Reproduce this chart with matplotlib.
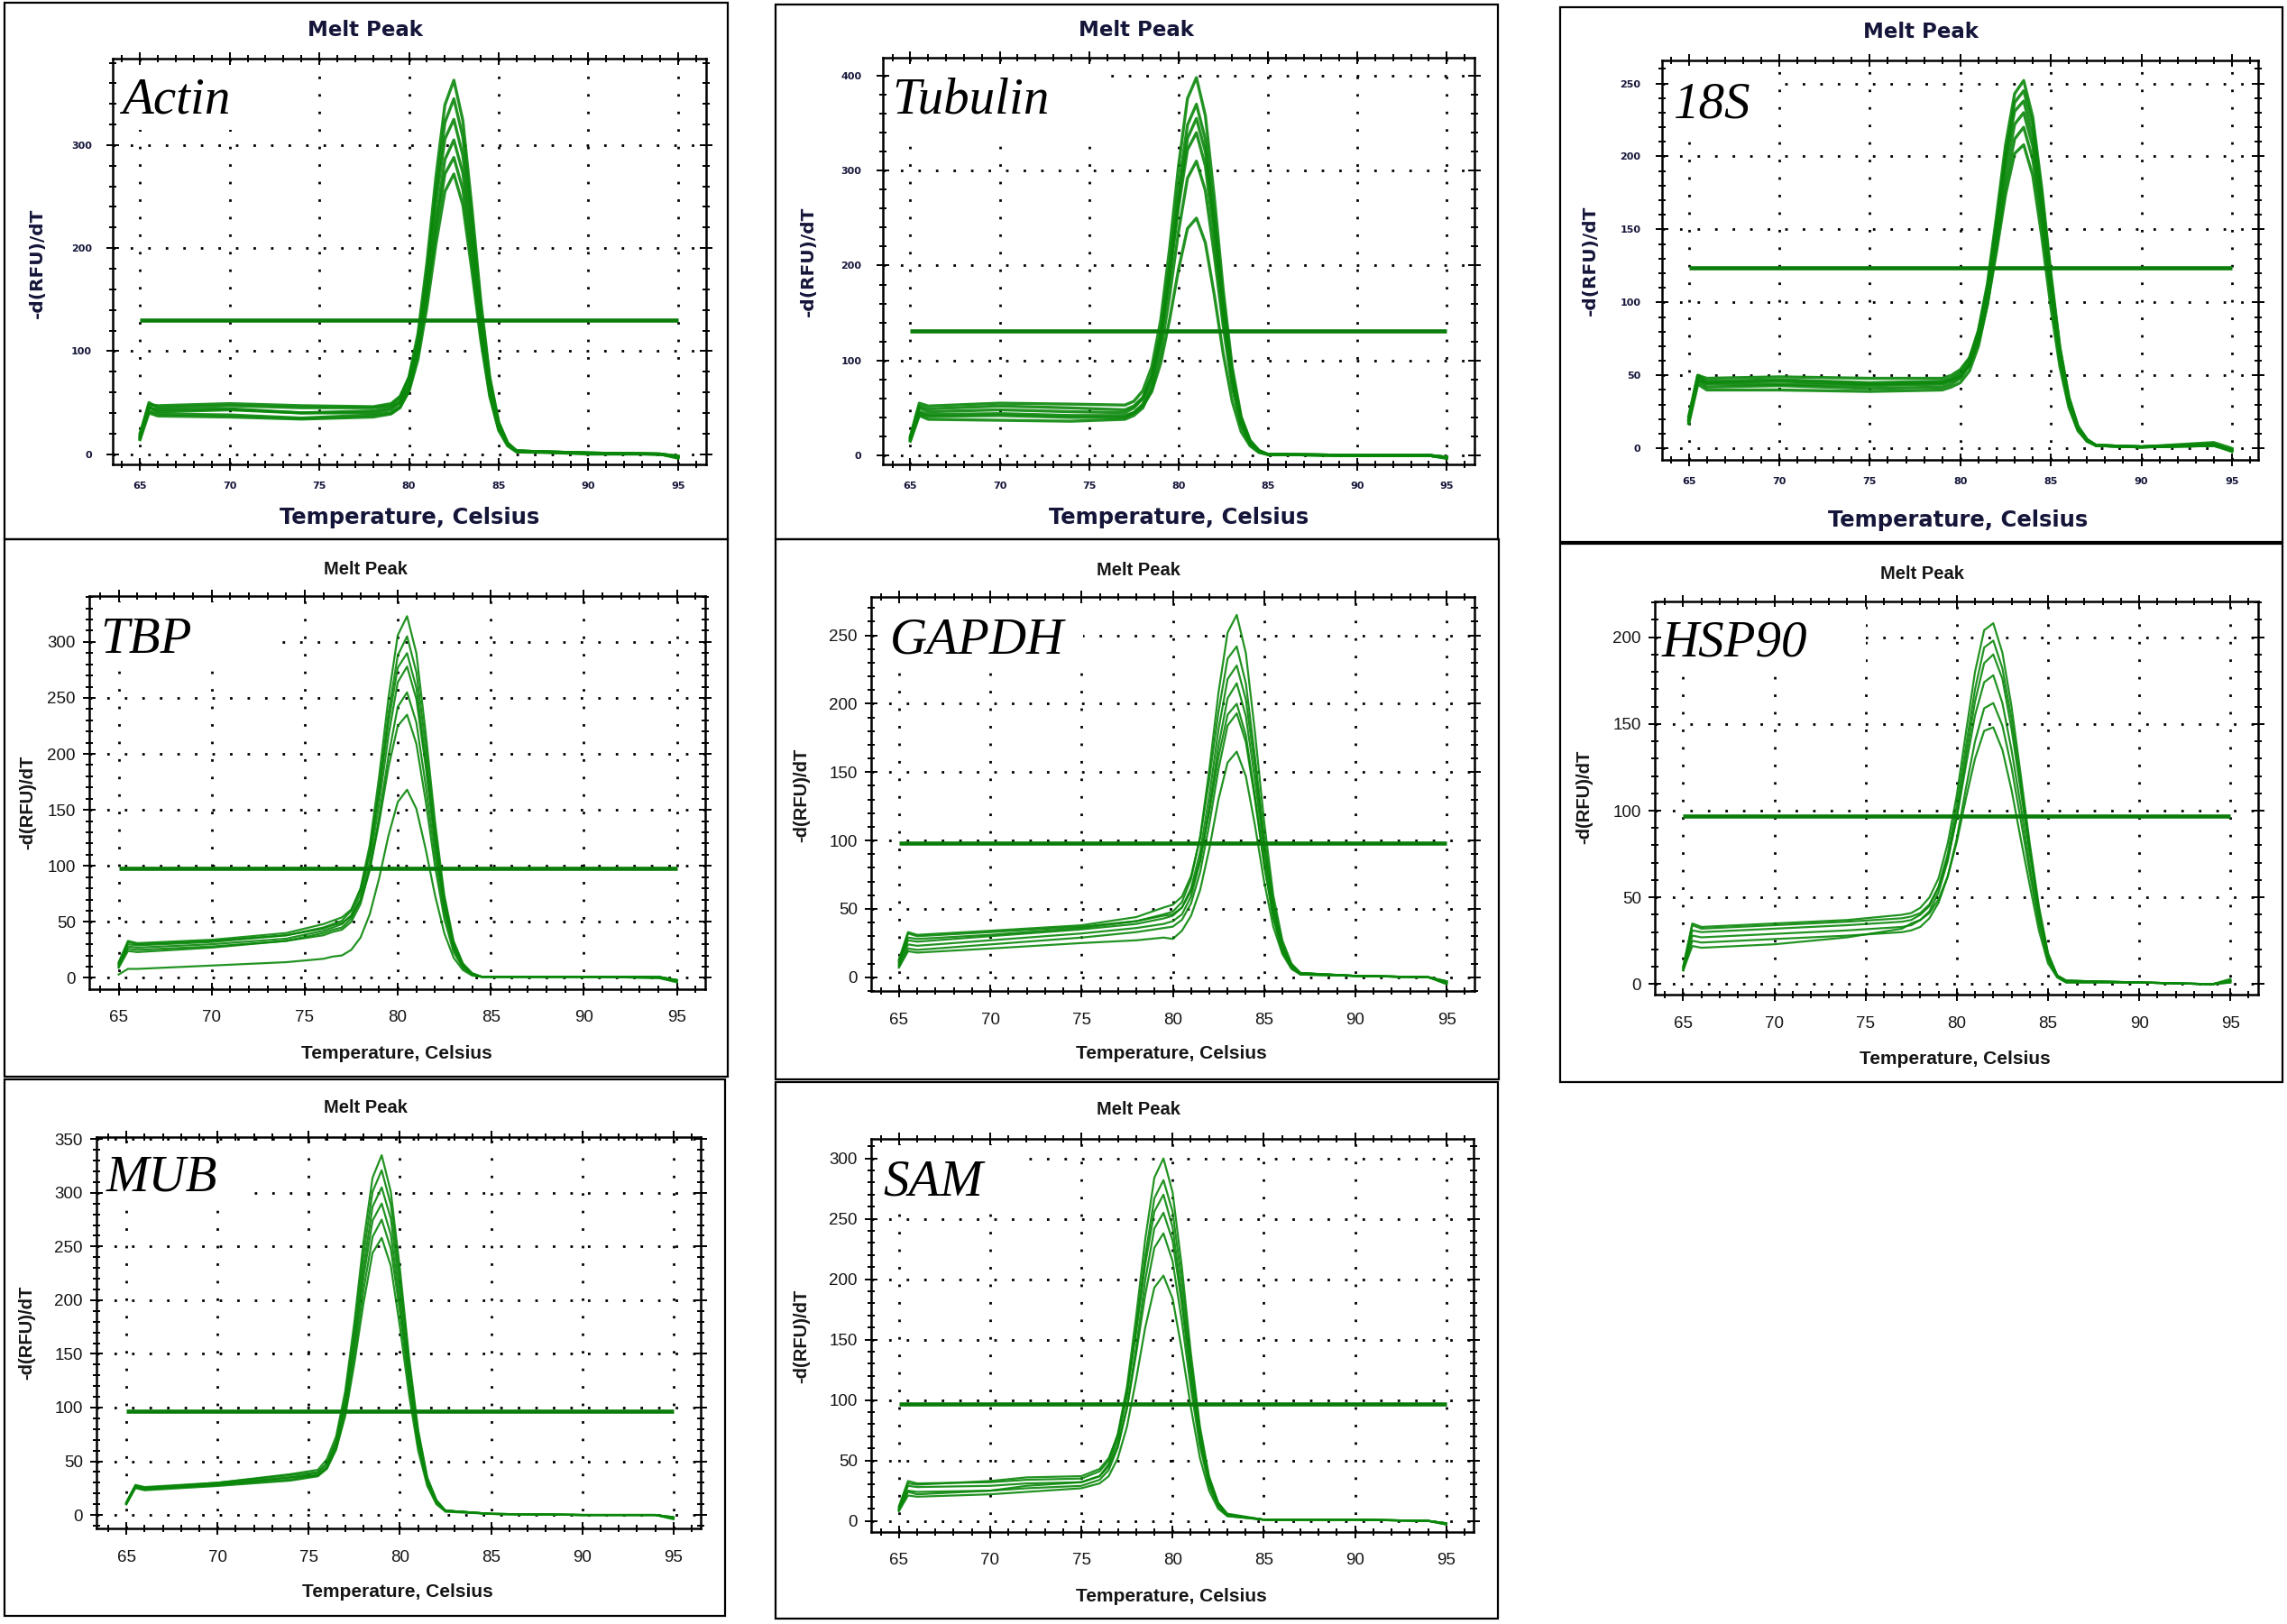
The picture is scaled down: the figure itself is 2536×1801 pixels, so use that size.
import matplotlib
matplotlib.use("Agg")
import matplotlib.pyplot as plt
from matplotlib.patches import Rectangle
from matplotlib.ticker import MultipleLocator
from matplotlib import font_manager

W, H = 2536, 1801
DPI = 100

# ------------------------------------------------------------------ data
genes = ["Actin", "Tubulin", "18S", "TBP", "GAPDH", "HSP90", "MUB", "SAM"]
panel_title = "Melt Peak"
x_label = "Temperature, Celsius"
y_label = "-d(RFU)/dT"
x_ticks = [65, 70, 75, 80, 85, 90, 95]

actin_T = [65, 65.5, 66, 70, 74, 78, 79, 79.5, 80, 80.5, 81, 81.5, 82, 82.5, 83, 83.5, 84, 84.5, 85, 85.5, 86, 90, 94, 95]
actin_curves = [
    [18, 50, 45, 47, 45, 45, 47, 55, 75, 117, 186, 269, 339, 363, 324, 240, 149, 75, 31, 11, 3, 1, 0, -3],
    [15, 46, 41, 43, 40, 40, 43, 50, 70, 110, 175, 255, 322, 345, 308, 229, 141, 72, 30, 10, 3, 1, 0, -2],
    [20, 48, 47, 49, 47, 46, 49, 56, 74, 110, 171, 245, 306, 325, 290, 215, 132, 66, 28, 10, 3, 1, 0, -4],
    [14, 40, 37, 36, 34, 36, 39, 45, 62, 98, 156, 226, 286, 305, 273, 203, 125, 64, 26, 9, 3, 0, 0, -3],
    [17, 45, 43, 44, 40, 42, 45, 51, 66, 99, 153, 217, 272, 288, 257, 190, 117, 59, 24, 9, 3, 1, 0, -2],
    [16, 42, 39, 38, 35, 38, 40, 46, 61, 92, 143, 204, 255, 272, 242, 179, 111, 56, 23, 8, 2, 1, 0, -3],
]
actin_threshold = 130

tubulin_T = [65, 65.5, 66, 70, 74, 77, 77.5, 78, 78.5, 79, 79.5, 80, 80.5, 81, 81.5, 82, 82.5, 83, 83.5, 84, 84.5, 85, 90, 94, 95]
tubulin_curves = [
    [20, 55, 52, 55, 54, 53, 57, 68, 93, 142, 218, 305, 376, 398, 358, 272, 174, 93, 41, 16, 5, 1, 0, 0, -2],
    [18, 50, 46, 48, 46, 45, 50, 60, 84, 129, 200, 282, 348, 370, 333, 253, 162, 86, 39, 15, 5, 1, 0, 0, -2],
    [16, 44, 41, 42, 40, 40, 45, 54, 77, 121, 190, 269, 334, 355, 320, 243, 156, 83, 37, 14, 5, 1, 0, 0, -3],
    [19, 52, 49, 52, 50, 48, 52, 61, 83, 124, 188, 262, 322, 340, 305, 230, 147, 78, 35, 13, 4, 1, 0, 0, -2],
    [15, 42, 38, 37, 36, 38, 42, 50, 70, 108, 168, 236, 292, 310, 279, 211, 136, 72, 32, 12, 4, 1, 0, 0, -3],
    [17, 46, 43, 44, 42, 42, 45, 52, 67, 97, 143, 196, 239, 250, 224, 169, 107, 57, 25, 10, 3, 1, 0, 0, -2],
]
tubulin_threshold = 131

s18_T = [65, 65.5, 66, 70, 75, 79, 79.5, 80, 80.5, 81, 81.5, 82, 82.5, 83, 83.5, 84, 84.5, 85, 85.5, 86, 86.5, 87, 87.5, 90, 94, 95]
s18_curves = [
    [20, 50, 46, 47, 45, 46, 48, 52, 61, 81, 113, 159, 208, 243, 252, 227, 178, 120, 69, 35, 15, 6, 2, 1, 3, -1],
    [18, 46, 42, 43, 41, 42, 44, 48, 57, 76, 108, 153, 201, 237, 245, 222, 174, 117, 68, 34, 15, 6, 2, 1, 2, -2],
    [22, 50, 48, 49, 48, 48, 50, 54, 62, 80, 110, 153, 198, 231, 238, 214, 166, 112, 64, 32, 14, 6, 2, 1, 4, 0],
    [19, 47, 44, 44, 43, 44, 46, 49, 58, 75, 105, 146, 190, 222, 230, 207, 161, 109, 63, 31, 14, 5, 2, 1, 2, -1],
    [17, 44, 40, 40, 39, 40, 42, 45, 53, 70, 99, 139, 181, 212, 220, 198, 155, 105, 61, 30, 13, 5, 2, 1, 3, -2],
    [20, 48, 45, 46, 44, 45, 47, 50, 57, 73, 99, 135, 174, 202, 208, 187, 145, 97, 56, 28, 12, 5, 2, 1, 2, -1],
]
s18_threshold = 124

tbp_T = [65, 65.5, 66, 70, 74, 76, 76.5, 77, 77.5, 78, 78.5, 79, 79.5, 80, 80.5, 81, 81.5, 82, 82.5, 83, 83.5, 84, 84.5, 90, 94, 95]
tbp_curves = [
    [12, 32, 30, 33, 38, 45, 48, 51, 60, 80, 119, 180, 250, 306, 323, 290, 219, 140, 74, 33, 13, 4, 1, 1, 1, -2],
    [10, 28, 27, 30, 35, 42, 45, 48, 56, 75, 112, 169, 236, 288, 305, 273, 207, 132, 70, 31, 12, 4, 1, 1, 0, -3],
    [14, 33, 31, 34, 40, 48, 51, 54, 61, 79, 113, 167, 228, 277, 290, 259, 195, 125, 66, 29, 11, 4, 1, 1, 1, -2],
    [9, 24, 23, 27, 33, 40, 43, 45, 53, 70, 104, 156, 216, 264, 278, 249, 189, 120, 64, 28, 11, 3, 1, 1, 0, -4],
    [11, 26, 25, 28, 33, 38, 41, 43, 50, 66, 97, 144, 198, 242, 255, 228, 172, 110, 59, 26, 10, 3, 1, 1, 1, -2],
    [13, 30, 29, 32, 38, 44, 47, 49, 55, 69, 97, 139, 188, 225, 235, 209, 158, 100, 53, 23, 9, 3, 1, 1, 1, -3],
    [3, 8, 8, 11, 14, 17, 19, 20, 25, 36, 57, 89, 127, 157, 168, 151, 115, 74, 40, 18, 7, 2, 1, 1, 0, -2],
]
tbp_threshold = 98

gapdh_T = [65, 65.5, 66, 70, 75, 78, 79.5, 80, 80.5, 81, 81.5, 82, 82.5, 83, 83.5, 84, 84.5, 85, 85.5, 86, 86.5, 87, 90, 94, 95]
gapdh_curves = [
    [12, 32, 30, 33, 37, 41, 46, 48, 55, 72, 103, 152, 208, 252, 265, 237, 179, 114, 60, 27, 10, 3, 1, 0, -4],
    [13, 33, 31, 34, 38, 44, 51, 53, 59, 74, 102, 145, 194, 233, 242, 215, 161, 103, 55, 24, 9, 3, 1, 0, -3],
    [10, 27, 26, 30, 35, 39, 43, 45, 51, 65, 92, 133, 181, 218, 228, 203, 154, 97, 52, 23, 9, 3, 1, 0, -5],
    [9, 24, 23, 27, 32, 36, 39, 41, 46, 59, 85, 124, 169, 204, 215, 191, 144, 92, 49, 21, 8, 3, 1, 0, -3],
    [11, 29, 28, 31, 36, 41, 45, 46, 51, 63, 86, 121, 161, 192, 200, 177, 132, 84, 44, 19, 7, 2, 1, 0, -4],
    [8, 21, 20, 24, 29, 33, 36, 37, 42, 54, 77, 112, 152, 184, 193, 172, 130, 82, 44, 19, 7, 2, 1, 0, -3],
    [7, 19, 18, 21, 25, 27, 29, 28, 34, 45, 64, 94, 130, 157, 165, 147, 111, 70, 37, 17, 6, 2, 1, 0, -5],
]
gapdh_threshold = 98

hsp90_T = [65, 65.5, 66, 70, 74, 77, 77.5, 78, 78.5, 79, 79.5, 80, 80.5, 81, 81.5, 82, 82.5, 83, 83.5, 84, 84.5, 85, 85.5, 86, 90, 94, 95]
hsp90_curves = [
    [10, 35, 33, 35, 37, 40, 41, 44, 50, 61, 81, 109, 145, 180, 204, 208, 191, 160, 121, 81, 45, 18, 5, 2, 1, 0, 2],
    [9, 31, 30, 32, 34, 36, 37, 40, 45, 56, 75, 103, 137, 170, 194, 198, 182, 153, 116, 78, 43, 17, 5, 2, 1, 0, 1],
    [8, 28, 27, 29, 31, 33, 34, 37, 42, 53, 71, 97, 131, 163, 185, 190, 176, 147, 112, 75, 42, 17, 5, 2, 1, 0, 3],
    [10, 34, 32, 34, 36, 38, 39, 41, 46, 56, 72, 96, 126, 155, 174, 178, 162, 135, 103, 68, 38, 15, 5, 2, 1, 0, 2],
    [8, 25, 24, 26, 28, 30, 31, 33, 38, 47, 62, 84, 113, 140, 159, 162, 149, 125, 95, 64, 35, 14, 4, 1, 1, 0, 1],
    [8, 22, 21, 23, 27, 32, 35, 37, 41, 49, 62, 82, 107, 130, 146, 148, 135, 112, 84, 57, 31, 12, 4, 1, 1, 0, 2],
]
hsp90_threshold = 97

mub_T = [65, 65.5, 66, 70, 74, 75.5, 76, 76.5, 77, 77.5, 78, 78.5, 79, 79.5, 80, 80.5, 81, 81.5, 82, 82.5, 85, 90, 94, 95]
mub_curves = [
    [12, 28, 26, 30, 38, 42, 52, 73, 115, 179, 254, 314, 335, 301, 229, 147, 79, 35, 14, 4, 1, 0, 0, -3],
    [11, 27, 25, 29, 35, 39, 48, 69, 109, 171, 242, 301, 321, 289, 220, 141, 76, 34, 13, 4, 1, 0, 0, -2],
    [10, 26, 24, 28, 33, 37, 45, 65, 103, 162, 230, 287, 305, 276, 209, 134, 72, 32, 12, 4, 1, 0, 0, -4],
    [11, 27, 25, 30, 37, 40, 48, 66, 102, 157, 221, 274, 290, 261, 198, 126, 68, 30, 12, 4, 1, 0, 0, -3],
    [10, 25, 23, 27, 32, 36, 43, 61, 95, 148, 209, 259, 275, 248, 189, 121, 65, 29, 11, 4, 1, 0, 0, -2],
    [11, 26, 24, 28, 35, 37, 44, 61, 92, 141, 197, 244, 258, 232, 175, 112, 60, 27, 10, 3, 1, 0, 0, -3],
]
mub_threshold = 97

sam_T = [65, 65.5, 66, 70, 72, 75, 76, 76.5, 77, 77.5, 78, 78.5, 79, 79.5, 80, 80.5, 81, 81.5, 82, 82.5, 83, 85, 90, 94, 95]
sam_curves = [
    [12, 33, 31, 32, 34, 35, 41, 50, 72, 111, 169, 233, 284, 300, 272, 211, 139, 78, 37, 15, 6, 1, 1, 0, -2],
    [10, 29, 28, 29, 31, 32, 37, 47, 67, 104, 159, 219, 267, 282, 256, 199, 132, 74, 35, 15, 5, 1, 1, 0, -3],
    [11, 31, 30, 33, 36, 37, 43, 52, 71, 106, 156, 212, 256, 270, 243, 187, 124, 70, 33, 14, 5, 1, 1, 0, -2],
    [9, 25, 24, 25, 27, 29, 34, 42, 61, 94, 143, 199, 242, 255, 232, 180, 118, 66, 32, 13, 5, 1, 1, 0, -3],
    [9, 24, 22, 25, 29, 32, 37, 45, 62, 93, 138, 187, 226, 238, 215, 166, 110, 62, 29, 12, 4, 1, 1, 0, -2],
    [8, 21, 20, 22, 24, 27, 31, 37, 52, 78, 117, 160, 193, 203, 184, 142, 94, 52, 25, 10, 4, 1, 1, 0, -2],
]
sam_threshold = 97

temps = [actin_T, tubulin_T, s18_T, tbp_T, gapdh_T, hsp90_T, mub_T, sam_T]
curve_sets = [actin_curves, tubulin_curves, s18_curves, tbp_curves, gapdh_curves,
              hsp90_curves, mub_curves, sam_curves]
thresholds = [actin_threshold, tubulin_threshold, s18_threshold, tbp_threshold,
              gapdh_threshold, hsp90_threshold, mub_threshold, sam_threshold]
y_major = [100, 100, 50, 50, 50, 50, 50, 50]
y_minor = [20, 20, 10, 10, 10, 10, 10, 10]

# ------------------------------------------------------------------ layout (pixels)
layout = [
    dict(box=(5, 3, 807, 598), ax=(125.4, 65, 782.7, 515), xlim=(63.5, 96.55), ylim=(-10, 384),
         row=1, title=(405, 33), xl=(454, 574), yl=(41, 292), lab=(63.97, 331), wb=(73, 315)),
    dict(box=(860, 5, 1661, 598), ax=(979.1, 64.2, 1634.6, 515), xlim=(63.47, 96.53), ylim=(-9.5, 418.8),
         row=1, title=(1260, 34), xl=(1307, 574), yl=(896, 290), lab=(64.0, 360.8), wb=(75.9, 340)),
    dict(box=(1730, 8, 2531, 601), ax=(1842.9, 66.8, 2503.6, 509.7), xlim=(63.52, 96.43), ylim=(-7.7, 265.9),
         row=1, title=(2130, 36), xl=(2171, 577), yl=(1763, 289), lab=(64.17, 226.7), wb=(69.6, 218)),
    dict(box=(5, 598, 807, 1194), ax=(99.2, 661.1, 781.9, 1096.6), xlim=(63.43, 96.52), ylim=(-9.8, 340.9),
         row=2, title=(405, 631), xl=(440, 1169), yl=(31, 890), lab=(64.0, 290), wb=(73.8, 281)),
    dict(box=(860, 598, 1662, 1197), ax=(966, 662.2, 1634.6, 1098.9), xlim=(63.48, 96.5), ylim=(-10, 278),
         row=2, title=(1262, 632), xl=(1299, 1169), yl=(889, 882), lab=(64.5, 237), wb=(75.1, 226)),
    dict(box=(1730, 603, 2531, 1200), ax=(1835.1, 666.9, 2503.6, 1103.2), xlim=(63.45, 96.5), ylim=(-6.1, 220.6),
         row=2, title=(2131, 636), xl=(2168, 1174), yl=(1757, 884), lab=(63.84, 189), wb=(75, 180)),
    dict(box=(5, 1197, 804, 1792), ax=(107.1, 1261.2, 777.2, 1695.2), xlim=(63.37, 96.5), ylim=(-12.7, 351.7),
         row=2, title=(405, 1228), xl=(441, 1765), yl=(30, 1478), lab=(63.9, 302), wb=(72, 290)),
    dict(box=(860, 1200, 1661, 1795), ax=(966, 1263.2, 1634.1, 1698.7), xlim=(63.48, 96.5), ylim=(-9, 316),
         row=2, title=(1262, 1231), xl=(1299, 1770), yl=(889, 1482), lab=(64.12, 269.5), wb=(72, 262)),
]

names = {f.name for f in font_manager.fontManager.ttflist}
narrow = "Liberation Sans Narrow" if "Liberation Sans Narrow" in names else "Liberation Sans"

CURVE = "#0a870a"
THR = "#0a7c0a"
NAVY = "#15153a"

fig = plt.figure(figsize=(W / DPI, H / DPI), dpi=DPI)
fig.patch.set_facecolor("white")


def fx(px):
    return px / W


def fy(py):
    return 1 - py / H


for i, L in enumerate(layout):
    bl, bt, br, bb = L["box"]
    fig.patches.append(Rectangle((fx(bl), fy(bb)), (br - bl) / W, (bb - bt) / H,
                                 transform=fig.transFigure, fill=False,
                                 edgecolor="black", linewidth=1.6, zorder=0))
    al, at, ar, ab = L["ax"]
    ax = fig.add_axes([fx(al), fy(ab), (ar - al) / W, (ab - at) / H])
    ax.set_xlim(*L["xlim"])
    ax.set_ylim(*L["ylim"])
    ax.set_axisbelow(True)

    ax.xaxis.set_major_locator(MultipleLocator(5))
    ax.xaxis.set_minor_locator(MultipleLocator(1))
    ax.yaxis.set_major_locator(MultipleLocator(y_major[i]))
    ax.yaxis.set_minor_locator(MultipleLocator(y_minor[i]))
    ax.set_xticks(x_ticks)
    ax.grid(True, which="major", color="black", linestyle=(0, (1, 6)), linewidth=2.0)

    for sp in ax.spines.values():
        sp.set_linewidth(1.8)
        sp.set_color("black")

    ax.tick_params(which="both", direction="inout", top=True, right=True, width=1.4, color="black")
    ax.tick_params(which="major", length=10)
    ax.tick_params(which="minor", length=6)

    if L["row"] == 1:
        ax.tick_params(axis="x", which="major", pad=9, labelsize=8, labelcolor=NAVY)
        ax.tick_params(axis="y", which="major", pad=12, labelsize=8, labelcolor=NAVY)
        for t in ax.get_xticklabels() + ax.get_yticklabels():
            t.set_fontweight("bold")
            t.set_fontfamily("DejaVu Sans")
        tfont = dict(family="DejaVu Sans", weight="bold", color=NAVY)
        fig.text(fx(L["title"][0]), fy(L["title"][1]), panel_title, ha="center", va="center",
                 fontsize=16.5, **tfont)
        fig.text(fx(L["xl"][0]), fy(L["xl"][1]), x_label, ha="center", va="center",
                 fontsize=17.5, **tfont)
        fig.text(fx(L["yl"][0]), fy(L["yl"][1]), y_label, ha="center", va="center",
                 rotation=90, fontsize=14.5, **tfont)
        lw = 2.4
    else:
        ax.tick_params(axis="x", which="major", pad=12, labelsize=13.5, labelcolor="#151515")
        ax.tick_params(axis="y", which="major", pad=6, labelsize=13.5, labelcolor="#151515")
        for t in ax.get_xticklabels() + ax.get_yticklabels():
            t.set_fontfamily(narrow)
        tfont = dict(family=narrow, weight="bold", color="#151515")
        fig.text(fx(L["title"][0]), fy(L["title"][1]), panel_title, ha="center", va="center",
                 fontsize=14.5, **tfont)
        fig.text(fx(L["xl"][0]), fy(L["xl"][1]), x_label, ha="center", va="center",
                 fontsize=15, **tfont)
        fig.text(fx(L["yl"][0]), fy(L["yl"][1]), y_label, ha="center", va="center",
                 rotation=90, fontsize=14.5, **tfont)
        lw = 1.6

    x0, x1 = L["xlim"]
    y0, y1 = L["ylim"]
    bx = x0 + 0.012 * (x1 - x0)
    by = L["wb"][1]
    ax.add_patch(Rectangle((bx, by), L["wb"][0] - bx, (y1 - 0.015 * (y1 - y0)) - by,
                           facecolor="white", edgecolor="none", zorder=1.2))
    ax.text(L["lab"][0], L["lab"][1], genes[i], fontfamily="Liberation Serif", style="italic",
            fontsize=41, ha="left", va="baseline", color="black", zorder=3)

    for c in curve_sets[i]:
        ax.plot(temps[i], c, color=CURVE, linewidth=lw, alpha=0.9, zorder=2,
                solid_joinstyle="round")
    ax.plot([65, 95], [thresholds[i], thresholds[i]], color=THR, linewidth=3.3,
            solid_capstyle="butt", zorder=2.2)

fig.savefig("out.png", dpi=DPI, facecolor="white")
